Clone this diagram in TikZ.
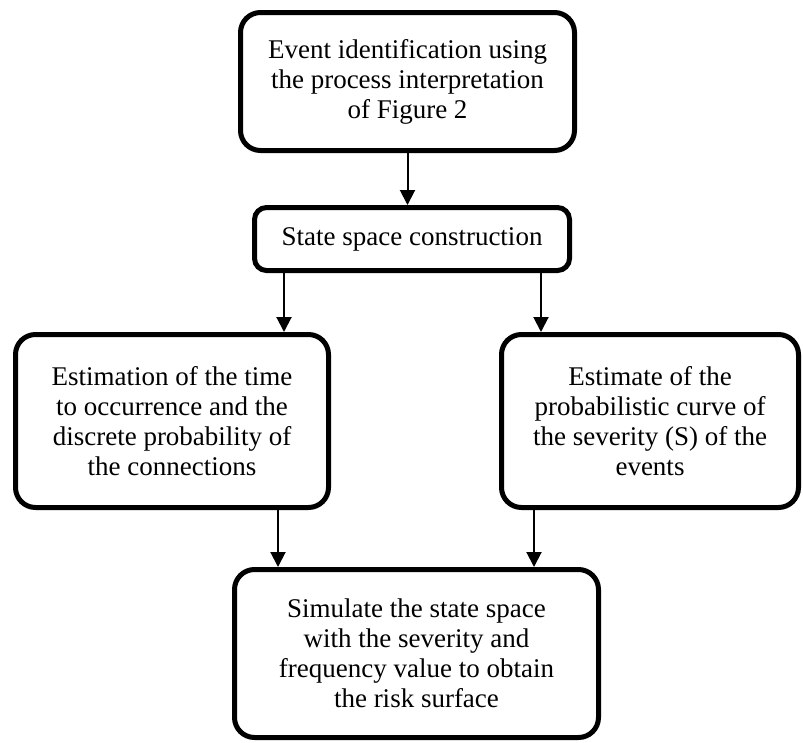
\documentclass[tikz,border=0pt]{standalone}
\usepackage{fontspec}
\setmainfont{Liberation Serif}
\usetikzlibrary{arrows.meta}
\begin{document}
\begin{tikzpicture}[x=1pt,y=-1pt,
  box/.style={draw, line width=5pt, rounded corners=20pt, inner sep=0pt, outer sep=0pt,
    align=center, font=\fontsize{27}{30}\selectfont},
  arr/.style={line width=2pt, -{Triangle[width=15pt,length=15pt]}, shorten >=2.5pt}]
\useasboundingbox (0,0) rectangle (803,742);

% process steps
\node[box, minimum width=334pt, minimum height=138pt] (b1) at (407.5,81.5)
  {Event identification using\\the process interpretation\\of Figure 2};
\node[box, rounded corners=12pt, minimum width=315pt, minimum height=63pt] (b2) at (412,239)
  {State space construction};
\node[box, minimum width=313pt, minimum height=173pt] (b3) at (172,421)
  {Estimation of the time\\to occurrence and the\\discrete probability of\\the connections};
\node[box, minimum width=297pt, minimum height=173pt] (b4) at (650,421)
  {Estimate of the\\probabilistic curve of\\the severity (S) of the\\events};
\node[box, minimum width=364pt, minimum height=168pt] (b5) at (416.5,653.5)
  {Simulate the state space\\with the severity and\\frequency value to obtain\\the risk surface};

% columns of the connectors
\coordinate (xa) at (284,0);
\coordinate (xb) at (541,0);
\coordinate (xc) at (278,0);
\coordinate (xd) at (534,0);

% connectors
\draw[arr] (b1.south) -- (b1.south |- b2.north);
\draw[arr] (b2.south -| xa) -- (b3.north -| xa);
\draw[arr] (b2.south -| xb) -- (b4.north -| xb);
\draw[arr] (b3.south -| xc) -- (b5.north -| xc);
\draw[arr] (b4.south -| xd) -- (b5.north -| xd);
\end{tikzpicture}
\end{document}
